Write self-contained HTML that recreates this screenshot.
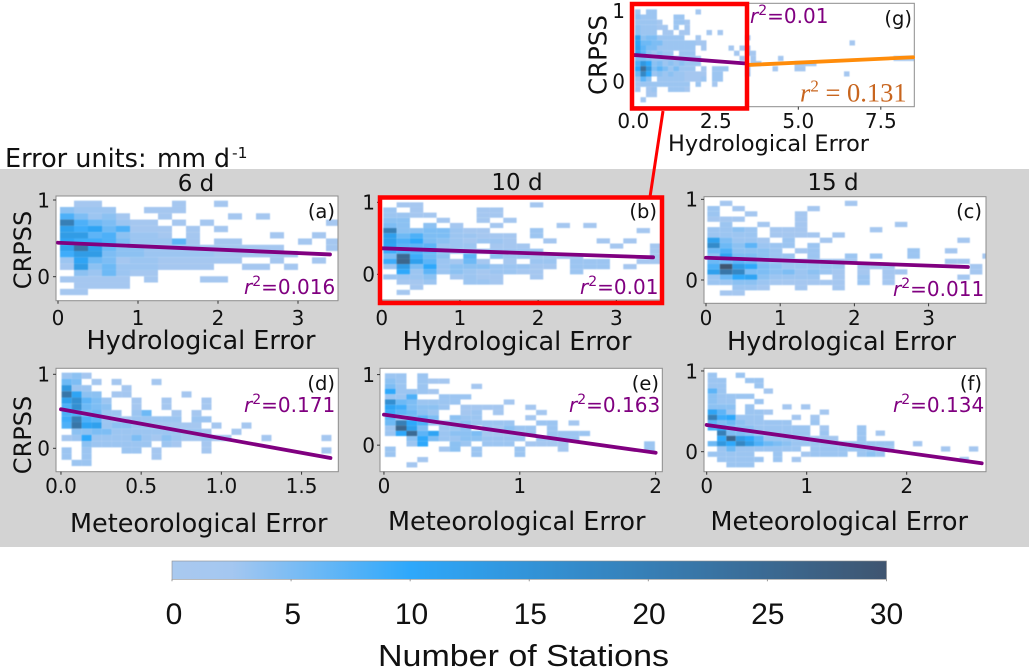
<!DOCTYPE html>
<html lang="en">
<head>
<meta charset="utf-8">
<title>CRPSS versus error heatmaps</title>
<style>
html,body{margin:0;padding:0;background:#fff;}
body{width:1029px;height:669px;overflow:hidden;}
svg{display:block;}
text{font-family:"DejaVu Sans","Liberation Sans",sans-serif;fill:#111;}
.cb{font-family:"Liberation Sans",sans-serif;}
.serif{font-family:"Liberation Serif",serif;}
</style>
</head>
<body>
<svg id="fig" xmlns="http://www.w3.org/2000/svg" width="1029" height="669" viewBox="0 0 1029 669">
  <rect x="0" y="0" width="1029" height="669" fill="#ffffff"/>
  <rect x="0" y="169" width="1029" height="378" fill="#d3d3d3"/>
  <g>
    <text x="5" y="167" font-size="25.5">Error units:</text>
    <text x="157" y="167" font-size="25.5" textLength="73" lengthAdjust="spacingAndGlyphs">mm d</text>
    <text x="232" y="158" font-size="15.5">-1</text>
  </g>
  <text x="196" y="191" font-size="23" text-anchor="middle">6 d</text>
  <text x="517" y="190" font-size="23" text-anchor="middle">10 d</text>
  <text x="833" y="190" font-size="23" text-anchor="middle">15 d</text>
  <g id="panels"></g>
  <g id="colorbar"></g>
  <line x1="663" y1="111" x2="650" y2="197" stroke="#ff0000" stroke-width="3"/>
  <rect x="632" y="4" width="115" height="104.5" fill="none" stroke="#ff0000" stroke-width="4.5"/>
  <rect x="380" y="197.5" width="282" height="105.5" fill="none" stroke="#ff0000" stroke-width="4.5"/>
</svg>
<script>
// ---- Chart data ----
const rowsA = [
 [0,2,2,0,0,0,0,0,2,0,0,2],
 [4,3,3,3,0,0,2,2,2],
 [8,5,3,4,2,0,0,2,0,0,0,0,2,0,2],
 [20,8,6,5,3,2,2,0,2,0,2,0,0,0,0,0,0,0,0,2],
 [12,9,11,6,8,2,2,2,0,2,0,2],
 [13,13,7,8,4,3,3,2,0,2,0,0,0,0,0,2,0,0,2],
 [11,9,9,8,5,3,3,3,7,2,0,2,2,0,0,0,0,2,0,2],
 [12,22,12,6,4,4,3,3,3,3,2,2,2,2,2,2,0,0,0,2],
 [9,13,13,5,4,4,3,3,3,3,3,2,2,2,2,2,2,0,0,0],
 [3,11,6,5,2,3,3,2,2,2,2,2,2,0,0,2,0,0,2],
 [2,13,4,6,3,3,3,2,2,2,2,0,0,2,2,0,2],
 [0,4,3,6,3,2,2],
 [2,2,2,2,2,0,2,0,0,0,2,2],
 [0,2,2,2,2],
 [2,2]
];
const rowsB = [
 [0,2,2,0,0,0,0,0,0,0,0,2],
 [3,0,2,0,0,0,0,2,2],
 [3,3,2,2,0,0,0,2,2],
 [4,4,0,0,2,0,0,2,0,2],
 [5,4,0,4,0,2,0,0,2,0,0,0,0,2,0,2],
 [20,4,4,5,5,3,2,2,0,0,0,3,0,0,0,0,0,0,0,2],
 [12,6,8,5,5,3,3,2,2,2,0,3],
 [12,8,10,5,4,3,2,3,3,2,0,0,2,0,0,0,2,0,2],
 [11,7,7,7,3,3,3,0,2,2,2,0,0,0,0,0,0,2,0,0,2],
 [9,8,8,7,4,3,3,3,3,3,3,3,0,0,0,0,0,0,0,0,2],
 [5,25,9,6,4,0,7,0,4,3,3,2,2,2,2,0,0,0,0,0,2],
 [9,26,12,7,3,2,6,2,0,2,0,3,3,0,3,3,3,0,0,2,2],
 [3,13,5,10,3,4,4,4,3,3,3,2,2,0,3,3,3,0,2],
 [0,10,3,7,3,4,3,2,3,3,2,2,0,0,3],
 [3,3,3,4,0,2,3,2,2,0,0,2],
 [0,2,2,3,0,0,3,3,2],
 [0,0,2],
 [0,2]
];
const rowsC = [
 [0,2,0,0,0,0,0,0,0,0,0,2],
 [3,0,2,0,0,0,0,0,2],
 [3,0,0,2,0,0,0,2],
 [2,2,2,0,0,0,0,2],
 [0,3,0,0,2,0,0,2,0,0,0,0,0,0,0,2],
 [3,3,4,3,0,2,2,2,0,0,0,0,0,2],
 [3,3,3,3,0,2,2,2,2,0,2],
 [12,5,3,3,2,0,3,0,0,2,0,0,0,0,0,0,0,0,0,0,2],
 [17,6,4,7,3,3,3,0,3],
 [6,8,4,4,4,3,0,2,3,0,0,0,0,0,0,0,3,0,0,2],
 [4,11,5,5,4,3,3,0,3,0,0,3,0,3,0,0,3,0,0,0,0,0,2],
 [6,6,7,6,4,3,3,3,3,2,2,2,0,0,0,0,0,0,0,2,2],
 [8,30,13,10,5,4,3,3,3,3,3,0,2,2,2,0,0,0,0,0,0,2],
 [12,22,18,5,5,4,5,3,4,3,2,0,2,0,2,2,0,0,0,0,0,2],
 [3,6,10,11,4,3,3,3,3,0,2,0,3,0,2,0,0,0,0,0,2],
 [3,3,4,4,3,2,2,2,2,2,2,0,3,0,2],
 [0,0,3,3,2,0,0,2,0,0,2],
 [0,2,2]
];
const rowsD = [
 [3,4,2],
 [6,5,0,2,0,2,0,0,0,2],
 [14,3,3,0,0,0,2],
 [22,11,4,4,0,2,2,0,0,0,0,0,2],
 [12,16,7,5,3,0,0,2,0,0,2,0,0,0,2],
 [8,16,6,5,4,0,0,2,0,0,2,0,0,0,2],
 [8,8,5,6,3,3,0,3,6,0,0,2,0,2],
 [9,20,8,7,3,2,2,3,3,3,3,3,0,3,3],
 [8,22,11,12,3,4,4,3,3,2,2,2,2,2,0,2,0,0,2],
 [0,4,4,5,5,3,3,3,3,3,3,3,3,3,2,0,0,2],
 [2,3,10,3,3,3,3,5,3,2,4,3,2,2,3,2,2,0,0,0,2,0,0,0,0,0,2],
 [0,0,4,3,3,3,3,3,3,0,3,2,0,0,2],
 [3,0,3,0,0,0,3,3,0,2,0,0,0,0,2,0,0,0,0,0,0,0,0,0,0,0,2],
 [3,0,3,0,0,0,0,0,0,2],
 [0,3,3]
];
const rowsE = [
 [3,3,0,3],
 [4,3,0,3,2,2],
 [5,3,0,3,0,0,0,0,2],
 [10,3,3,3,2],
 [3,3,8,0,0,3,3,3],
 [16,6,5,3,3,3,3,0,0,0,0,2],
 [11,9,5,4,4,3,0,2,2,2,2,0,0,2],
 [9,7,6,4,3,0,0,2,3,0,2,0,0,0,2],
 [7,3,6,7,5,0,4,3,3,0,0,0,0,2],
 [6,20,10,8,3,3,3,4,3,3,3,3,0,0,3,3,0,2],
 [3,26,12,5,0,3,3,4,0,3,2,4,3,3,0,3],
 [3,10,25,7,11,3,4,4,5,2,2,2,2,3,0,3,3,3,3],
 [0,0,4,10,5,3,3,4,4,3,3,3,3,0,3,3,3,3],
 [0,0,3,10,0,0,4,3,0,3,3,3,0,2,2,2,2,0,0,0,0,0,0,0,3],
 [3,0,0,0,0,2,4,0,3,0,0,0,3,0,0,0,2,0,0,0,0,0,0,0,3],
 [3,0,0,0,0,0,0,0,3,0,0,0,3],
 [0,0,0,2],
 [0,0,2]
];
const rowsF = [
 [3,0,0,3],
 [3,3,0,0,3,3],
 [3,3,0,0,0,3],
 [7,3,0,0,0,0,2],
 [4,3,3,3,3],
 [4,3,3,0,0,3],
 [4,4,4,0,3,0,0,0,2,0,2],
 [11,7,3,0,3,3,2,0,0,0,0,0,2],
 [20,9,10,3,3,3,0,0,0,2,0,2],
 [7,5,6,4,3,3,3,3,3,0,0,3],
 [8,10,5,4,4,3,3,3,3,3,3,0,2,0,0,0,3],
 [0,20,5,5,4,3,3,3,3,3,3,0,3,0,0,0,3,0,2],
 [0,10,26,13,10,7,3,3,3,3,3,2,2,2,0,0,3],
 [6,14,10,18,13,8,6,5,4,3,3,3,3,3,3,3,3,3,3,3,0,0,2],
 [0,3,6,3,3,3,3,3,3,3,0,3,3,3,3,3,3,3,2,2,0,0,0,0,0,2,0,0,2],
 [3,3,3,3,3,0,0,3,0,0,2,3,3,3,3,0,3,4,3],
 [0,3,3,3,3,3,0,3,0,2,0,0,0,0,0,0,0,0,0,0,0,0,0,0,0,0,0,2],
 [0,0,3,3,3]
];
const rowsG = [
 [3,0,3,3,0,0,0,0,0,0,0,2],
 [4,3,3,3,0,0,0,3,3],
 [3,3,3,3,2,0,0,3,3,2],
 [4,3,3,3,2,2,0,3,0,2],
 [4,3,3,3,0,2,2,0,2,2,0,0,0,2,0,2],
 [12,4,5,5,3,3,3,3,3,0,0,2,0,0,0,0,0,0,0,0,2],
 [11,6,6,5,5,3,3,3,3,3,3,2,2,0,0,0,0,0,0,0,0,0,0,0,0,0,0,0,0,0,0,0,0,0,0,0,0,0,0,2],
 [12,7,5,5,3,3,3,3,3,3,3,0,2,0,0,0,0,2,0,2,2],
 [11,7,4,3,4,3,3,0,3,3,3,0,0,0,0,0,0,0,2,0,2,2],
 [5,5,4,3,3,3,3,3,3,3,3,2,0,0,0,0,0,0,0,2,0,2,0,0,0,0,2,0,0,0,0,0,0,0,0,0,0,0,0,0,0,0,0,0,0,0,0,2,2,2,2],
 [8,14,10,4,5,3,4,3,4,3,3,3,0,0,0,0,0,0,0,0,0,2,2,0,0,0,0,0,0,2,2,2,2],
 [10,24,14,5,7,5,3,5,3,3,3,0,2,0,3,3,3,0,0,0,2,0,0,0,0,2,0,0,0,2,2],
 [6,18,10,3,4,3,4,3,3,2,2,2,2,0,3,3,0,0,0,0,2,0,0,0,0,0,0,0,0,0,0,0,0,0,0,0,0,0,2],
 [3,7,4,0,3,3,3,3,3,2,2,2,3,0,3,3],
 [2,3,3,3,3,3,3,3,3,3,0,3,0,0,2],
 [2,0,2,3,0,0,3,3,3,2],
 [0,0,2,2],
 [0,2]
];
const tickXHydro = [0,1,2,3];
const tickXMetD = [0.0,0.5,1.0,1.5];
const tickXMetE = [0,1,2];
const tickXMetF = [0,1,2];
const tickXInset = [0.0,2.5,5.0,7.5];
const tickY = [0,1];
const fitA = [[0,0.443],[3.4,0.29]];
const fitB = [[0,0.361],[3.47,0.236]];
const fitC = [[0,0.276],[3.53,0.161]];
const fitD = [[0,0.527],[1.68,-0.131]];
const fitE = [[0,0.432],[2.0,-0.108]];
const fitF = [[0,0.331],[2.75,-0.144]];
const fitG = [[0,0.37],[3.37,0.25]];
const fitGFull = [[3.48,0.228],[8.48,0.337]];
const colorbarTicks = [0,5,10,15,20,25,30];
const colorValues = [0,2.5,10,30];
const colorStops = ['#a9c9ef','#a4c7f0','#2ea8fb','#3f5570'];

// ---- Layout ----
const NS = 'http://www.w3.org/2000/svg';
const panelsRoot = document.getElementById('panels');
const barRoot = document.getElementById('colorbar');
const PURPLE = '#800080';

function mk(parent, tag, attrs, txt) {
  const el = document.createElementNS(NS, tag);
  for (const k in attrs) el.setAttribute(k, attrs[k]);
  if (txt !== undefined) el.textContent = txt;
  parent.appendChild(el);
  return el;
}
function hex(c){return [1,3,5].map(i=>parseInt(c.substr(i,2),16));}
function colorFor(v){
  const n = colorValues.length;
  if (v <= colorValues[0]) return colorStops[0];
  if (v >= colorValues[n-1]) return colorStops[n-1];
  for (let i=0;i<n-1;i++){
    if (v <= colorValues[i+1]){
      const t=(v-colorValues[i])/(colorValues[i+1]-colorValues[i]);
      const a=hex(colorStops[i]), b=hex(colorStops[i+1]);
      return 'rgb('+a.map((p,j)=>Math.round(p+(b[j]-p)*t)).join(',')+')';
    }
  }
}

const panels = [
 {id:'a', rows:rowsA, fit:fitA, box:[56,196,282,104.7], xlim:[-0.025,3.5], ylim:[-0.313,1.052], bins:[0.025,0.175,0.991,0.0821],
  xt:tickXHydro, xfmt:0, xb:325, yr:50, cap:[335,218], r2:'0.016', r2pos:[244,294], xlabel:'Hydrological Error', xl:[86.5,349,25.5], ylabel:[31,250,24]},
 {id:'b', rows:rowsB, fit:fitB, box:[380,198,282,102], xlim:[-0.022,3.584], ylim:[-0.357,1.06], bins:[0.02,0.1705,1.0,0.0715],
  xt:tickXHydro, xfmt:0, xb:325, yr:375, cap:[657,218], r2:'0.01', r2pos:[580,294], xlabel:'Hydrological Error', xl:[402.5,350,25.5]},
 {id:'c', rows:rowsC, fit:fitC, box:[704,196.7,282,106.6], xlim:[-0.027,3.774], ylim:[-0.289,1.033], bins:[0.018,0.1685,0.983,0.0654],
  xt:tickXHydro, xfmt:0, xb:325, yr:698, cap:[982,218], r2:'0.011', r2pos:[893,296], xlabel:'Hydrological Error', xl:[727,350,25.5]},
 {id:'d', rows:rowsD, fit:fitD, box:[56,368.3,282.3,103.4], xlim:[-0.031,1.729], ylim:[-0.316,1.081], bins:[0.004,0.0623,1.022,0.0841],
  xt:tickXMetD, xfmt:1, xb:493, yr:50, cap:[335,390], r2:'0.171', r2pos:[244,412], xlabel:'Meteorological Error', xl:[70,532,25.5], ylabel:[31,435,24]},
 {id:'e', rows:rowsE, fit:fitE, box:[380,368.3,282.3,103.4], xlim:[-0.029,2.049], ylim:[-0.376,1.089], bins:[0.007,0.0795,1.018,0.0741],
  xt:tickXMetE, xfmt:0, xb:493, yr:375, cap:[659,390], r2:'0.163', r2pos:[569,412], xlabel:'Meteorological Error', xl:[388,530,25.5]},
 {id:'f', rows:rowsF, fit:fitF, box:[704,368.3,282,103.4], xlim:[-0.027,2.793], ylim:[-0.248,1.033], bins:[0.01,0.0933,0.979,0.0652],
  xt:tickXMetF, xfmt:0, xb:493, yr:698, cap:[982,390], r2:'0.134', r2pos:[893,412], xlabel:'Meteorological Error', xl:[710.5,530,25.5]},
 {id:'g', rows:rowsG, fit:fitG, box:[633,3.3,281.3,103.4], xlim:[-0.01,8.515], ylim:[-0.366,1.105], bins:[0.05,0.1667,1.019,0.0735],
  xt:tickXInset, xfmt:1, xb:128, yr:625, cap:[912,25], r2:'0.01', r2pos:[750,23], xlabel:'Hydrological Error', xl:[668,151,22.4], ylabel:[606.5,55,24.5]}
];

panels.forEach(function(p){
  const g = mk(panelsRoot,'g',{});
  
  
  const [bx,by,bw,bh] = p.box;
  const sx = v => bx + (v-p.xlim[0])/(p.xlim[1]-p.xlim[0])*bw;
  const sy = v => by + bh - (v-p.ylim[0])/(p.ylim[1]-p.ylim[0])*bh;

  const bg = mk(g,'rect',{x:bx,y:by,width:bw,height:bh,fill:'#ffffff'});
  
  

  const clipId='clip-'+p.id;
  const defs=mk(g,'defs',{});
  const cp=mk(defs,'clipPath',{id:clipId});
  mk(cp,'rect',{x:bx,y:by,width:bw,height:bh});

  const clipGroup = mk(g,'g',{'clip-path':'url(#'+clipId+')'});
  
  
  const cells = mk(clipGroup,'g',{style:'filter:blur(0.45px)'});
  
  
  const [x0,dx,ytop,dy] = p.bins;
  p.rows.forEach(function(row,r){
    row.forEach(function(v,c){
      if(!v) return;
      const xa=sx(x0+c*dx), xb=sx(x0+(c+1)*dx), ya=sy(ytop-r*dy), yb=sy(ytop-(r+1)*dy);
      const cell=mk(cells,'rect',{x:xa.toFixed(2),y:ya.toFixed(2),width:(xb-xa).toFixed(2),height:(yb-ya).toFixed(2),fill:colorFor(v)});
      
      
    });
  });

  const frame=mk(g,'rect',{x:bx,y:by,width:bw,height:bh,fill:'none',stroke:'#8c8c8c','stroke-width':1});
  
  

  const fitLine=mk(g,'line',{x1:sx(p.fit[0][0]),y1:sy(p.fit[0][1]),x2:sx(p.fit[1][0]),y2:sy(p.fit[1][1]),stroke:PURPLE,'stroke-width':3.8,'stroke-linecap':'round'});
  
  

  if(p.id==='g'){
    const full=mk(g,'line',{x1:sx(fitGFull[0][0]),y1:sy(fitGFull[0][1]),x2:sx(fitGFull[1][0]),y2:sy(fitGFull[1][1]),stroke:'#ff8c0a','stroke-width':3.8,'stroke-linecap':'round'});
    
    
    const t=mk(g,'text',{x:800,y:101.5,'font-size':26.5,'class':'serif',style:'fill:#c8651e'});
    
    
    mk(t,'tspan',{'font-style':'italic'},'r');
    mk(t,'tspan',{'font-size':17,dy:-10},'2');
    mk(t,'tspan',{dy:10},' = 0.131');
  }

  p.xt.forEach(function(v){
    const tk=mk(g,'line',{x1:sx(v),x2:sx(v),y1:by+bh,y2:by+bh+3,stroke:'#333','stroke-width':1});
    
    
    const lb=mk(g,'text',{x:sx(v),y:p.xb,'font-size':20,'text-anchor':'middle'},v.toFixed(p.xfmt));
    
    
  });
  tickY.forEach(function(v){
    const tk=mk(g,'line',{x1:bx-3,x2:bx,y1:sy(v),y2:sy(v),stroke:'#333','stroke-width':1});
    
    
    const lb=mk(g,'text',{x:p.yr,y:sy(v)+7.3,'font-size':20,'text-anchor':'end'},String(v));
    
    
  });

  const cap=mk(g,'text',{x:p.cap[0],y:p.cap[1],'font-size':19.5,'text-anchor':'end'},'('+p.id+')');
  
  

  const r2=mk(g,'text',{x:p.r2pos[0],y:p.r2pos[1],'font-size':20,style:'fill:'+PURPLE});
  
  
  mk(r2,'tspan',{'font-style':'italic',style:'fill:'+PURPLE},'r');
  mk(r2,'tspan',{'font-size':14,dy:-8,style:'fill:'+PURPLE},'2');
  mk(r2,'tspan',{dy:8,style:'fill:'+PURPLE},'='+p.r2);

  const xl=mk(g,'text',{x:p.xl[0],y:p.xl[1],'font-size':p.xl[2]},p.xlabel);
  
  

  if(p.ylabel){
    const yl=mk(g,'text',{x:p.ylabel[0],y:p.ylabel[1],'font-size':p.ylabel[2],'text-anchor':'middle',transform:'rotate(-90 '+p.ylabel[0]+' '+p.ylabel[1]+')'},'CRPSS');
    
    
  }
});

// ---- Colorbar ----
const barBox=[172,561,714.5,18.3];
const cbMax=colorbarTicks[colorbarTicks.length-1];
const cbx=v=>barBox[0]+v/cbMax*barBox[2];
const cbLabelX=v=>174+v/cbMax*712.5;
const defsCb=mk(barRoot,'defs',{});
const lg=mk(defsCb,'linearGradient',{id:'cb-gradient',x1:0,x2:1,y1:0,y2:0});
colorValues.forEach(function(v,i){
  mk(lg,'stop',{offset:v/cbMax,'stop-color':colorStops[i]});
});
const barRect=mk(barRoot,'rect',{x:barBox[0],y:barBox[1],width:barBox[2],height:barBox[3],fill:'url(#cb-gradient)',stroke:'#8c8c8c','stroke-width':0.6});


colorbarTicks.forEach(function(v){
  const tk=mk(barRoot,'line',{x1:cbx(v),x2:cbx(v),y1:barBox[1]+barBox[3],y2:barBox[1]+barBox[3]+2,stroke:'#999','stroke-width':1});
  
  
  const lb=mk(barRoot,'text',{x:cbLabelX(v),y:624,'font-size':30,'text-anchor':'middle','class':'cb'},String(v));
  
  
});
const cbTitle=mk(barRoot,'text',{x:378,y:666,'font-size':31,'class':'cb',textLength:291,lengthAdjust:'spacingAndGlyphs'},'Number of Stations');


</script>
</body>
</html>
